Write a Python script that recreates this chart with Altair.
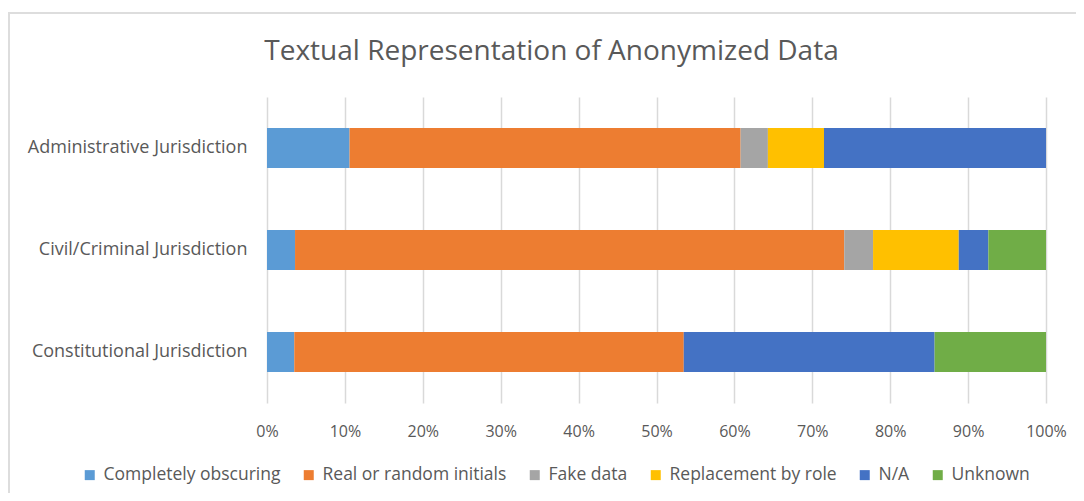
import altair as alt
import pandas as pd

categories = ["Administrative Jurisdiction", "Civil/Criminal Jurisdiction", "Constitutional Jurisdiction"]
series = ["Completely obscuring", "Real or random initials", "Fake data", "Replacement by role", "N/A", "Unknown"]
colors = ["#5B9BD5", "#ED7D31", "#A5A5A5", "#FFC000", "#4472C4", "#70AD47"]

completely_obscuring = [10.6, 3.6, 3.5]
real_or_random_initials = [50.2, 70.5, 50.0]
fake_data = [3.5, 3.7, 0.0]
replacement_by_role = [7.2, 11.0, 0.0]
na_values = [28.5, 3.8, 32.2]
unknown = [0.0, 7.4, 14.3]

values = [completely_obscuring, real_or_random_initials, fake_data, replacement_by_role, na_values, unknown]

rows = []
for si, (s, vals) in enumerate(zip(series, values)):
    for c, v in zip(categories, vals):
        rows.append({"category": c, "series": s, "value": v, "order": si})
df = pd.DataFrame(rows)

FONT = "Open Sans"
GRAY = "#595959"

bars = alt.Chart(df).mark_bar(size=40).encode(
    x=alt.X("value:Q", stack="normalize",
            scale=alt.Scale(domain=[0, 1], nice=False),
            axis=alt.Axis(format=".0%", values=[i / 10 for i in range(11)], title=None,
                          grid=True, gridColor="#D9D9D9", gridWidth=1.5, domain=False, ticks=False,
                          labelColor=GRAY, labelFontSize=16, labelFont=FONT, labelPadding=20,
                          labelFlush=False)),
    y=alt.Y("category:N", sort=categories, title=None,
            scale=alt.Scale(paddingInner=0.6, paddingOuter=0.3),
            axis=alt.Axis(domain=False, ticks=False, labelColor=GRAY, labelFontSize=18,
                          labelFont=FONT, labelPadding=20, labelLimit=400)),
    color=alt.Color("series:N", sort=series,
                    scale=alt.Scale(domain=series, range=colors),
                    legend=alt.Legend(title=None, orient="none", direction="horizontal",
                                      legendX=-186, legendY=369, symbolType="square",
                                      symbolSize=100, symbolStrokeWidth=0, labelFontSize=17.5,
                                      labelFont=FONT, labelColor=GRAY, columnPadding=19,
                                      symbolOffset=0, labelOffset=5, labelLimit=400)),
    order=alt.Order("order:Q", sort="ascending"),
)

# light chart-area frame (as in the Excel export), open to the right and bottom
frame = alt.Chart(alt.Data(values=[{}])).mark_rect(
    filled=False, stroke="#DDDDDD", strokeWidth=2
).encode(
    x=alt.value(-258), x2=alt.value(1500), y=alt.value(-84), y2=alt.value(700)
)

chart = alt.layer(frame, bars).properties(
    width=779, height=306,
    title=alt.TitleParams("Textual Representation of Anonymized Data", fontSize=28,
                          font=FONT, color=GRAY, fontWeight="normal", anchor="middle",
                          frame="group", offset=-54, dx=-105),
    autosize=alt.AutoSizeParams(type="none"),
    padding={"left": 259, "top": 89, "right": 30, "bottom": 90},
).configure_view(stroke=None)

chart.save("out.html", embed_options={"renderer": "svg", "actions": False})
